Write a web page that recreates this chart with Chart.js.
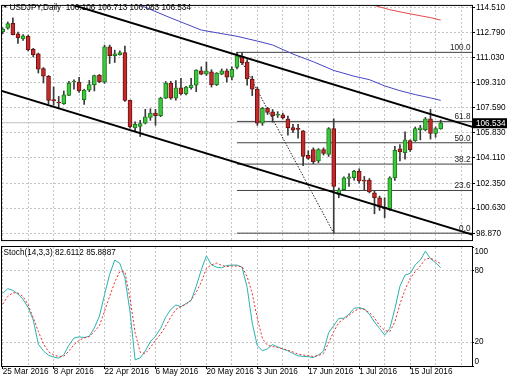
<!DOCTYPE html>
<html>
<head>
<meta charset="utf-8">
<script src="https://cdn.jsdelivr.net/npm/chart.js@4.4.1/dist/chart.umd.min.js"></script>
<style>
  html, body { margin: 0; padding: 0; background: #fff; width: 510px; height: 382px; overflow: hidden; }
  canvas { position: absolute; left: 0; }
  #main { top: 0; }
  #stoch { top: 246px; }
</style>
</head>
<body>
<canvas id="main" width="510" height="246"></canvas>
<canvas id="stoch" width="510" height="136"></canvas>
<script>
// ---------------- DATA ----------------
const symbol = "USDJPY,Daily";
const dates = [
  "25 Mar 2016","28 Mar 2016","29 Mar 2016","30 Mar 2016","31 Mar 2016",
  "1 Apr 2016","4 Apr 2016","5 Apr 2016","6 Apr 2016","7 Apr 2016","8 Apr 2016",
  "11 Apr 2016","12 Apr 2016","13 Apr 2016","14 Apr 2016","15 Apr 2016",
  "18 Apr 2016","19 Apr 2016","20 Apr 2016","21 Apr 2016","22 Apr 2016",
  "25 Apr 2016","26 Apr 2016","27 Apr 2016","28 Apr 2016","29 Apr 2016",
  "2 May 2016","3 May 2016","4 May 2016","5 May 2016","6 May 2016",
  "9 May 2016","10 May 2016","11 May 2016","12 May 2016","13 May 2016",
  "16 May 2016","17 May 2016","18 May 2016","19 May 2016","20 May 2016",
  "23 May 2016","24 May 2016","25 May 2016","26 May 2016","27 May 2016",
  "30 May 2016","31 May 2016","1 Jun 2016","2 Jun 2016","3 Jun 2016",
  "6 Jun 2016","7 Jun 2016","8 Jun 2016","9 Jun 2016","10 Jun 2016",
  "13 Jun 2016","14 Jun 2016","15 Jun 2016","16 Jun 2016","17 Jun 2016",
  "20 Jun 2016","21 Jun 2016","22 Jun 2016","23 Jun 2016","24 Jun 2016",
  "27 Jun 2016","28 Jun 2016","29 Jun 2016","30 Jun 2016","1 Jul 2016",
  "4 Jul 2016","5 Jul 2016","6 Jul 2016","7 Jul 2016","8 Jul 2016",
  "11 Jul 2016","12 Jul 2016","13 Jul 2016","14 Jul 2016","15 Jul 2016",
  "18 Jul 2016","19 Jul 2016","20 Jul 2016","21 Jul 2016","22 Jul 2016",
  "25 Jul 2016"
];
const open = [
  112.81,113.08,113.41,112.68,112.32,112.52,111.61,111.30,110.28,109.75,
  108.13,107.95,107.86,108.43,109.35,109.35,108.13,108.79,109.17,109.83,
  109.35,111.79,111.17,111.24,111.39,108.08,106.17,106.28,106.50,106.90,
  107.20,107.02,108.23,109.28,108.23,108.95,108.53,108.95,109.13,110.13,
  109.90,110.06,109.17,109.90,110.13,109.68,110.35,111.12,110.73,109.53,
  108.86,106.50,107.53,107.28,107.05,107.08,106.79,106.20,106.15,105.97,
  104.28,104.68,103.90,104.68,104.35,106.13,101.57,101.90,102.68,102.73,
  103.17,102.55,102.57,101.68,101.35,100.69,100.57,102.72,104.73,104.46,
  105.30,105.30,106.06,106.06,106.80,105.80,106.106
];
const high = [
  113.10,113.50,113.79,112.80,112.63,112.60,111.68,111.35,110.35,109.80,
  109.01,108.35,108.73,109.39,109.50,109.68,108.85,109.46,109.83,109.87,
  111.90,111.90,111.55,111.50,111.83,108.10,106.60,106.70,107.46,107.50,
  107.46,108.30,109.38,109.40,109.45,109.60,109.05,109.60,110.20,110.40,
  110.74,110.20,110.00,110.25,110.25,110.40,111.40,111.39,110.90,109.75,
  109.00,107.60,107.60,107.45,107.30,107.20,107.00,106.42,106.42,106.00,
  104.60,104.80,104.75,104.80,106.20,106.80,102.02,102.80,103.02,103.24,
  103.35,102.82,102.68,101.80,101.46,101.35,102.80,104.90,105.02,105.90,
  105.35,106.24,106.35,106.90,107.46,106.24,106.713
];
const low = [
  112.70,113.00,112.60,112.01,112.23,111.50,111.08,109.97,109.28,107.83,
  107.75,107.53,107.80,108.40,108.86,108.63,107.80,108.68,108.73,109.30,
  109.25,110.63,110.70,111.20,108.00,106.15,105.95,105.58,106.45,106.70,
  106.35,106.95,108.20,108.15,108.10,108.45,108.45,108.85,108.68,109.85,
  109.80,109.00,109.10,109.85,109.35,109.50,110.25,110.55,109.13,108.41,
  106.35,106.35,107.10,106.57,106.90,106.80,105.68,105.84,105.46,103.57,
  104.00,103.70,103.77,104.30,104.20,98.90,101.35,101.84,102.13,102.57,
  102.35,101.88,101.68,100.24,100.47,99.97,100.47,102.55,103.90,104.02,
  104.55,105.24,105.35,105.97,105.40,105.53,106.083
];
const close = [
  113.01,113.39,112.63,112.39,112.54,111.57,111.23,110.23,109.75,108.08,
  108.04,107.90,108.46,109.27,109.40,108.73,108.79,109.17,109.79,109.35,
  111.79,111.17,111.30,111.39,108.08,106.24,106.42,106.48,106.95,107.20,
  107.02,108.23,109.28,108.23,108.95,108.53,109.00,109.13,110.17,109.90,
  110.13,109.17,109.97,110.13,109.68,110.23,111.18,110.68,109.57,108.86,
  106.50,107.53,107.24,107.02,107.10,106.86,106.20,106.02,106.08,104.20,
  104.06,103.84,104.68,104.42,106.13,102.13,101.90,102.73,102.80,103.17,
  102.51,102.50,101.75,101.35,100.69,100.57,102.73,104.62,104.51,105.35,
  104.68,106.13,106.19,106.80,105.80,106.13,106.534
];
// moving averages (bar index, value)
const maBlueIdx = [27, 33, 39, 46, 50, 53, 57, 61, 65, 69, 72, 75, 78, 81, 84, 86];
const maBlueVal = [114.66,113.78,112.94,112.51,112.18,111.91,111.28,110.75,110.15,109.75,109.51,109.08,108.75,108.48,108.25,108.08];
const maRedIdx = [73, 76, 79, 82, 84, 86];
const maRedVal = [114.64,114.35,114.13,113.93,113.80,113.63];
// stochastic (14,3,3)
const stochK = [
  61,65,63.5,60.5,56,49,38.7,18.3,12.7,9,
  7.5,6.6,9.4,17.5,23.5,24.5,23.9,25,32,42,
  60,77,89,86.3,74,45.6,5.2,6.8,12.7,20.5,
  25,31.5,41,47.5,51.3,49.8,52.5,55,67,81,
  92.5,85,83,82.5,84.5,84.8,84.8,83,66,36,
  17,12.8,14.5,18,16,14.2,12.8,10.5,8.5,8.1,
  7.8,7.1,9.3,12.5,28,34,40,40.2,43.5,48.5,
  49,48,43.5,37,31.5,26,31.5,48,67,76.4,
  77.8,85,89,96.5,90.2,86.8,82.6112
];
const stochD = [
  52,58.5,61.5,61.3,58.5,51.3,40.5,29,18.5,12,
  9.3,8,8.3,12.5,18,21.5,23.6,24.6,29,34,
  46,58.5,70.5,79.5,79,57,28,11.5,10.5,15.5,
  21.5,26.8,33.5,41,47.5,50,51.8,55.5,62,70.5,
  82,85,86.5,84.5,83.5,84,84,83.5,75,61,
  40,23,17.3,16.4,15.5,14.5,13.2,11.8,10,9.2,
  8.7,8,8.8,10.5,19.5,29,36.5,39.5,42.5,46,
  48.2,47.5,45,40.5,34,30,28.8,37,52,64,
  73.5,79.3,84,90,90.6,88.5,85.8887
];
// channel trend lines: [barIndex, price] anchors
const upperChannel = [[10, 115.08], [93, 106.16]];
const lowerChannel = [[-1, 108.82], [93, 98.71]];
// Fibonacci retracement
const fibAnchors = [[46, 111.40], [65, 98.90]];
const fibRatios = [0.0, 23.6, 38.2, 50.0, 61.8, 100.0];
// tick labels
const priceTicks = [114.510, 112.790, 111.030, 109.310, 107.590, 105.830, 104.110, 102.350, 100.630, 98.870];
const stochTicks = [0, 20, 80, 100];
const gridIdx = [0, 5, 10, 15, 20, 25, 30, 35, 40, 45, 50, 55, 60, 65, 70, 75, 80, 85, 90];
const labelIdx = [0, 10, 20, 30, 40, 50, 60, 70, 80];
const bid = 106.534;

// ---------------- STYLE / LAYOUT ----------------
const X_MIN = -0.137, X_MAX = 92.15;
const Y_MIN = 98.421, Y_MAX = 114.61;
const GRID = '#c4c4c4';
const FF = '"Liberation Sans", Arial, sans-serif';
const FS = 8.2;
Chart.defaults.font.family = FF;
Chart.defaults.font.size = FS;
Chart.defaults.color = '#000';

const N = close.length;
const ids = close.map((_, i) => i);
const bull = ids.map(i => close[i] >= open[i]);

function xScale(showLabels) {
  return {
    type: 'linear', min: X_MIN, max: X_MAX, offset: false,
    afterBuildTicks: s => { s.ticks = gridIdx.map(v => ({ value: v })); },
    afterFit: s => { s.height = showLabels ? 16 : 0; },
    grid: {
      offset: false, color: GRID, lineWidth: 1,
      drawTicks: showLabels, tickLength: 3,
      tickColor: c => (c.tick && labelIdx.includes(c.tick.value)) ? '#000' : 'rgba(0,0,0,0)'
    },
    border: { display: false, dash: [2, 2] },
    ticks: {
      display: showLabels, autoSkip: false, maxRotation: 0, minRotation: 0,
      align: 'start', padding: -1, font: { size: FS, lineHeight: 1 },
      callback: v => labelIdx.includes(v) ? dates[v] : ''
    }
  };
}

const framePlugin = {
  id: 'frame',
  afterDraw(chart) {
    const { ctx, chartArea: a } = chart;
    ctx.save();
    ctx.strokeStyle = '#000';
    ctx.lineWidth = 1;
    ctx.strokeRect(a.left - 0.5, a.top - 0.5, a.right - a.left + 1, a.bottom - a.top + 1);
    ctx.restore();
  }
};

const fibLevels = fibRatios.map(r => fibAnchors[1][1] + r / 100 * (fibAnchors[0][1] - fibAnchors[1][1]));

const mainPlugin = {
  id: 'mainDeco',
  afterDatasetsDraw(chart) {
    const { ctx, chartArea: a, scales } = chart;
    ctx.save();
    ctx.font = FS + 'px ' + FF;
    ctx.fillStyle = '#222';
    ctx.textAlign = 'right';
    ctx.textBaseline = 'alphabetic';
    fibRatios.forEach((r, k) => {
      const y = scales.y.getPixelForValue(fibLevels[k]);
      ctx.fillText(r.toFixed(1), a.right - 1.5, y - 2);
    });
    ctx.restore();
  },
  afterDraw(chart) {
    const { ctx, scales } = chart;
    ctx.save();
    // title
    ctx.fillStyle = '#000';
    ctx.beginPath();
    ctx.moveTo(3, 5); ctx.lineTo(7.4, 5); ctx.lineTo(5.2, 8); ctx.closePath(); ctx.fill();
    ctx.font = FS + 'px ' + FF;
    ctx.textAlign = 'left';
    ctx.textBaseline = 'middle';
    const L = N - 1;
    ctx.fillText(symbol + '  ' + [open[L], high[L], low[L], close[L]].map(v => v.toFixed(3)).join(' '), 9.5, 7.5);
    // bid price box
    const yb = scales.y.getPixelForValue(bid) + 0.5;
    ctx.fillStyle = '#000';
    ctx.fillRect(473, yb - 5, 34, 10);
    ctx.fillStyle = '#fff';
    ctx.fillText(bid.toFixed(3), 476, yb + 0.5);
    ctx.restore();
  }
};

const lineDs = (data, color, width, order, dash) => ({
  type: 'line', data, borderColor: color, borderWidth: width, pointRadius: 0,
  tension: 0, fill: false, order, borderDash: dash || [], spanGaps: true
});

const datasets = [];
datasets.push({
  type: 'bar', data: ids.map(i => ({ x: i, y: [low[i], high[i]] })),
  backgroundColor: '#3a3a3a', borderWidth: 0, barThickness: 1, grouped: false, order: 2
});
datasets.push({
  type: 'bar', data: ids.map(i => ({ x: i, y: [open[i], close[i]] })),
  backgroundColor: ids.map(i => bull[i] ? '#3cc83c' : '#c42a2a'),
  borderColor: ids.map(i => bull[i] ? '#1d7a1d' : '#6e1212'),
  borderWidth: 1, borderSkipped: false, barThickness: 4, minBarLength: 1, grouped: false, order: 1
});
datasets.push(lineDs(maBlueIdx.map((x, k) => ({ x, y: maBlueVal[k] })), '#4646c4', 1, 3));
datasets.push(lineDs(maRedIdx.map((x, k) => ({ x, y: maRedVal[k] })), '#e4484a', 1, 3));
datasets.push(lineDs(upperChannel.map(p => ({ x: p[0], y: p[1] })), '#000', 2, 0));
datasets.push(lineDs(lowerChannel.map(p => ({ x: p[0], y: p[1] })), '#000', 2, 0));
datasets.push(lineDs(fibAnchors.map(p => ({ x: p[0], y: p[1] })), '#222', 1, 4, [1.5, 1.5]));
fibLevels.forEach(v => datasets.push(lineDs([{ x: fibAnchors[0][0], y: v }, { x: X_MAX + 1, y: v }], '#404040', 1, 5)));
datasets.push(lineDs([{ x: X_MIN - 1, y: bid }, { x: X_MAX + 1, y: bid }], '#c0c0c0', 1, 6));

new Chart(document.getElementById('main'), {
  type: 'bar',
  data: { datasets },
  options: {
    responsive: false, animation: false, events: [],
    layout: { padding: { left: 2, top: 1, right: 0, bottom: 2 } },
    plugins: { legend: { display: false }, tooltip: { enabled: false } },
    scales: {
      x: xScale(false),
      y: {
        position: 'right', min: Y_MIN, max: Y_MAX,
        afterBuildTicks: s => { s.ticks = priceTicks.map(v => ({ value: v })); },
        afterFit: s => { s.width = 38; },
        grid: { color: GRID, drawTicks: true, tickLength: 3, tickColor: '#000' },
        border: { display: false, dash: [2, 2] },
        ticks: { padding: 1, autoSkip: false, callback: v => v.toFixed(3) }
      }
    }
  },
  plugins: [framePlugin, mainPlugin]
});

const stochPlugin = {
  id: 'stochDeco',
  afterDraw(chart) {
    const { ctx, chartArea: a, scales } = chart;
    ctx.save();
    ctx.font = FS + 'px ' + FF;
    ctx.fillStyle = '#000';
    ctx.textBaseline = 'middle';
    ctx.textAlign = 'left';
    ctx.fillText('Stoch(14,3,3) ' + stochK[N - 1].toFixed(4) + ' ' + stochD[N - 1].toFixed(4), 3.5, 6.5);
    stochTicks.forEach(v => {
      let y = scales.y.getPixelForValue(v);
      y = Math.min(Math.max(y, a.top + 4.5), a.bottom - 4.5);
      ctx.fillText(String(v), 474.5, y);
    });
    ctx.restore();
  }
};

new Chart(document.getElementById('stoch'), {
  type: 'line',
  data: {
    datasets: [
      lineDs(ids.map(i => ({ x: i, y: stochK[i] })), '#2ab3ae', 1, 1),
      lineDs(ids.map(i => ({ x: i, y: stochD[i] })), '#f02a2a', 1, 0, [2, 2])
    ]
  },
  options: {
    responsive: false, animation: false, events: [],
    layout: { padding: { left: 2, top: 1, right: 0, bottom: 0 } },
    plugins: { legend: { display: false }, tooltip: { enabled: false } },
    scales: {
      x: xScale(true),
      y: {
        position: 'right', min: 0, max: 100,
        afterBuildTicks: s => { s.ticks = stochTicks.map(v => ({ value: v })); },
        afterFit: s => { s.width = 38; },
        grid: {
          color: c => (c.tick && (c.tick.value === 20 || c.tick.value === 80)) ? GRID : 'rgba(0,0,0,0)',
          drawTicks: true, tickLength: 2, tickColor: '#000'
        },
        border: { display: false, dash: [2, 2] },
        ticks: { display: false }
      }
    }
  },
  plugins: [framePlugin, stochPlugin]
});
</script>
</body>
</html>
